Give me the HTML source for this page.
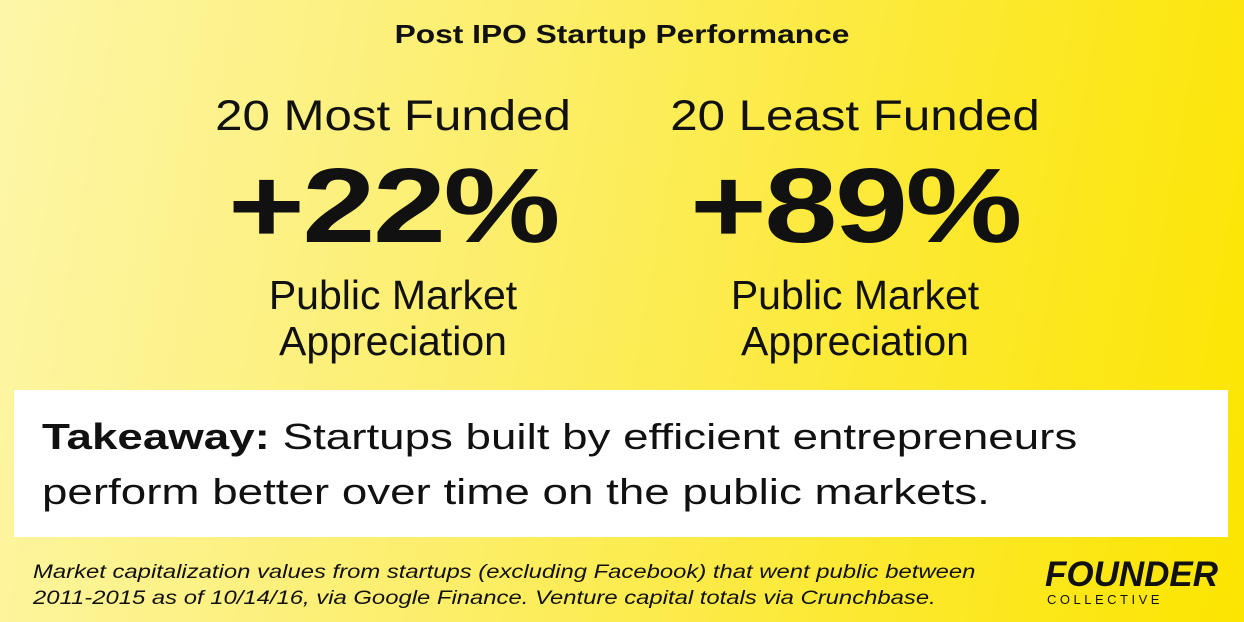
<!DOCTYPE html>
<html><head><style>
body{margin:0;width:1244px;height:622px;overflow:hidden;font-family:"Liberation Sans",sans-serif;color:#111;
background:linear-gradient(100deg,#fdf6a8 0%,#fcee6a 40%,#fce82a 75%,#fce500 100%);position:relative}
.a{position:absolute;white-space:nowrap;text-align:center}
</style></head><body>
<div class="a" style="left:0;width:1244px;top:19px;font-size:26px;font-weight:bold;transform:scaleX(1.22)">Post IPO Startup Performance</div>
<div class="a" style="left:193px;width:400px;top:92px;font-size:43px;transform:scaleX(1.145)">20 Most Funded</div>
<div class="a" style="left:655px;width:400px;top:92px;font-size:43px;transform:scaleX(1.145)">20 Least Funded</div>
<div class="a" style="left:193px;width:400px;top:146px;font-size:106px;font-weight:bold;letter-spacing:-2px;transform:scaleX(1.24)">+22%</div>
<div class="a" style="left:655px;width:400px;top:146px;font-size:106px;font-weight:bold;letter-spacing:-2px;transform:scaleX(1.24)">+89%</div>
<div class="a" style="left:193px;width:400px;top:272px;font-size:41px;line-height:46px">Public Market<br>Appreciation</div>
<div class="a" style="left:655px;width:400px;top:272px;font-size:41px;line-height:46px">Public Market<br>Appreciation</div>
<div style="position:absolute;left:14px;top:390px;width:1214px;height:147px;background:#fff"></div>
<div class="a" style="left:42px;top:409px;text-align:left;font-size:36px;line-height:55px;transform:scaleX(1.27);transform-origin:left"><b>Takeaway:</b> Startups built by efficient entrepreneurs<br>perform better over time on the public markets.</div>
<div class="a" style="left:33px;top:560px;text-align:left;font-size:19px;font-style:italic;line-height:26px;transform:scaleX(1.255);transform-origin:left">Market capitalization values from startups (excluding Facebook) that went public between<br>2011-2015 as of 10/14/16, via Google Finance. Venture capital totals via Crunchbase.</div>
<div class="a" style="left:1045px;top:555px;text-align:left;font-size:35px;font-weight:bold;font-style:italic">FOUNDER</div>
<div class="a" style="left:1047px;top:592px;text-align:left;font-size:13px;letter-spacing:3.5px">COLLECTIVE</div>
</body></html>
